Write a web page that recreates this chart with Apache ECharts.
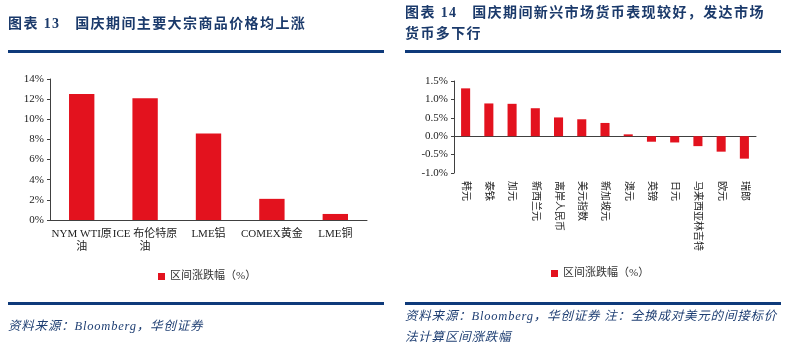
<!DOCTYPE html>
<html>
<head>
<meta charset="utf-8">
<script src="https://cdn.jsdelivr.net/npm/echarts@6/dist/echarts.min.js"></script>
<style>
  html, body { margin: 0; padding: 0; background: #fff; }
  .page { position: relative; width: 786px; height: 352px; overflow: hidden; }
  .title {
    position: absolute;
    color: #1b3a6b;
    font-family: "Liberation Serif", "Noto Sans CJK SC", serif;
    font-weight: bold;
    font-size: 14px;
    letter-spacing: 1.4px;
    line-height: 21px;
  }
  .rule { position: absolute; height: 3px; background: #0e3a7a; }
  .source {
    position: absolute;
    color: #1f3f73;
    font-family: "Liberation Serif", "Noto Sans CJK SC", serif;
    font-style: italic;
    font-size: 12.5px;
    letter-spacing: 0.8px;
    line-height: 21px;
  }
  #chart { position: absolute; left: 0; top: 0; width: 786px; height: 352px; }
</style>
</head>
<body>
<div class="page">
  <div id="chart"></div>
  <div class="title" style="left:8px;top:13px;">图表 13&nbsp;&nbsp;&nbsp;国庆期间主要大宗商品价格均上涨</div>
  <div class="title" style="left:405px;top:2px;width:380px;">图表 14&nbsp;&nbsp;&nbsp;国庆期间新兴市场货币表现较好，发达市场<br>货币多下行</div>
  <div class="rule" style="left:8px;top:50px;width:376px;"></div>
  <div class="rule" style="left:405px;top:50px;width:376px;"></div>
  <div class="rule" style="left:8px;top:302px;width:376px;"></div>
  <div class="rule" style="left:405px;top:302px;width:376px;"></div>
  <div class="source" style="left:8px;top:316px;">资料来源：Bloomberg，华创证券</div>
  <div class="source" style="left:405px;top:306px;width:380px;">资料来源：Bloomberg，华创证券 注：全换成对美元的间接标价<br>法计算区间涨跌幅</div>
</div>
<script>
const seriesName = '区间涨跌幅（%）'

// 图表13 大宗商品
const goodsList = ['NYM WTI原\n油', 'ICE 布伦特原\n油', 'LME铝', 'COMEX黄金', 'LME铜']
const goodsValues = [12.5, 12.1, 8.6, 2.1, 0.6]

// 图表14 货币
const currencyList = ['韩元', '泰铢', '加元', '新西兰元', '离岸人民币', '美元指数', '新加坡元', '澳元', '英镑', '日元', '马来西亚林吉特', '欧元', '瑞郎']
const currencyValues = [1.30, 0.89, 0.88, 0.76, 0.51, 0.46, 0.36, 0.05, -0.15, -0.17, -0.27, -0.42, -0.61]

const barColor = '#e3121e'
const axisColor = '#404040'
const labelFont = '"Liberation Serif", "Noto Sans CJK SC", serif'

const chart = echarts.init(document.getElementById('chart'))

const option = {
  animation: false,
  legend: [
    {
      left: 153,
      top: 266,
      itemWidth: 7,
      itemHeight: 7,
      itemGap: 3,
      icon: 'rect',
      textStyle: { fontSize: 11, color: '#333', fontFamily: labelFont },
      data: [seriesName]
    },
    {
      left: 546,
      top: 263,
      itemWidth: 7,
      itemHeight: 7,
      icon: 'rect',
      textStyle: { fontSize: 11, color: '#333', fontFamily: labelFont },
      data: [seriesName]
    }
  ],
  grid: [
    { left: 50, top: 79, width: 317, height: 141 },
    { left: 454, top: 81, width: 302, height: 92 }
  ],
  xAxis: [
    {
      gridIndex: 0,
      type: 'category',
      data: goodsList,
      axisLine: { lineStyle: { color: axisColor } },
      axisTick: { length: 3, lineStyle: { color: axisColor } },
      axisLabel: {
        color: '#222',
        fontSize: 11,
        fontFamily: labelFont,
        margin: 8,
        lineHeight: 13,
        interval: 0
      }
    },
    {
      gridIndex: 1,
      type: 'category',
      data: currencyList,
      axisLine: { onZero: true, lineStyle: { color: axisColor } },
      axisTick: { length: 3, lineStyle: { color: axisColor } },
      axisLabel: { show: false }
    },
    {
      gridIndex: 1,
      type: 'category',
      position: 'bottom',
      data: currencyList,
      axisLine: { show: false, onZero: false },
      axisTick: { show: false },
      axisLabel: {
        color: '#222',
        fontSize: 10,
        fontFamily: labelFont,
        rotate: -90,
        margin: 8,
        interval: 0
      }
    }
  ],
  yAxis: [
    {
      gridIndex: 0,
      type: 'value',
      min: 0,
      max: 14,
      interval: 2,
      axisLine: { show: true, lineStyle: { color: axisColor } },
      axisTick: { show: true, length: 3, lineStyle: { color: axisColor } },
      splitLine: { show: false },
      axisLabel: {
        color: '#222',
        fontSize: 11,
        fontFamily: labelFont,
        margin: 6,
        formatter: '{value}%'
      }
    },
    {
      gridIndex: 1,
      type: 'value',
      min: -1,
      max: 1.5,
      interval: 0.5,
      axisLine: { show: true, lineStyle: { color: axisColor } },
      axisTick: { show: true, length: 3, lineStyle: { color: axisColor } },
      splitLine: { show: false },
      axisLabel: {
        color: '#222',
        fontSize: 11,
        fontFamily: labelFont,
        margin: 6,
        formatter: (v) => v.toFixed(1) + '%'
      }
    }
  ],
  series: [
    {
      name: seriesName,
      type: 'bar',
      xAxisIndex: 0,
      yAxisIndex: 0,
      data: goodsValues,
      barWidth: '40%',
      itemStyle: { color: barColor }
    },
    {
      name: seriesName,
      type: 'bar',
      xAxisIndex: 1,
      yAxisIndex: 1,
      data: currencyValues,
      barWidth: '39%',
      itemStyle: { color: barColor }
    }
  ]
}

chart.setOption(option)
</script>
</body>
</html>
